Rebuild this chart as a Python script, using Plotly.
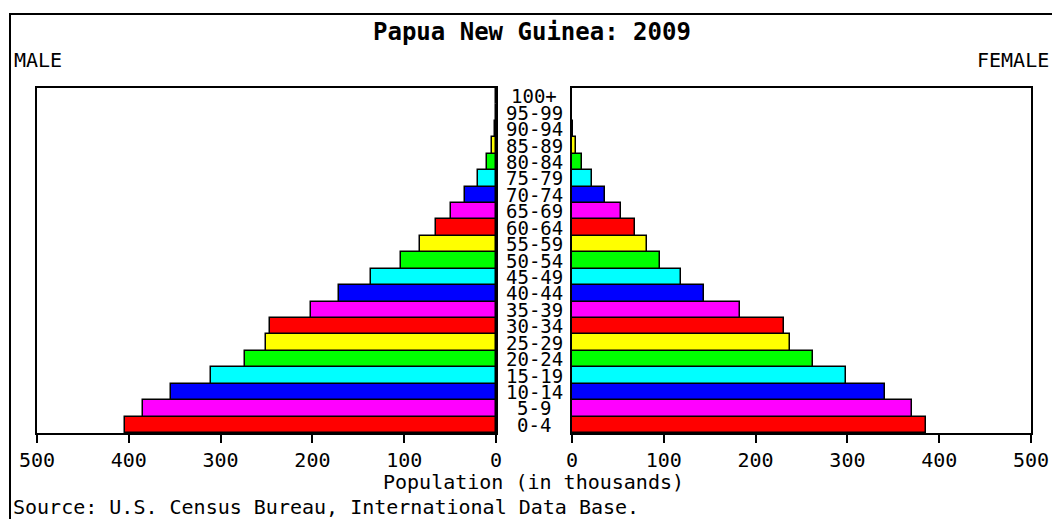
import plotly.graph_objects as go

# ---------------- data ----------------
age_groups = ["0-4", "5-9", "10-14", "15-19", "20-24", "25-29", "30-34",
              "35-39", "40-44", "45-49", "50-54", "55-59", "60-64", "65-69",
              "70-74", "75-79", "80-84", "85-89", "90-94", "95-99", "100+"]
male = [404, 384, 354, 310, 273, 251, 246, 202, 171, 136, 104, 83, 65, 49,
        34, 20, 10, 4, 1, 0.3, 0.05]
female = [386, 370, 341, 299, 263, 238, 231, 183, 144, 119, 96, 82, 69, 53,
          36, 22, 11, 4, 1, 0.3, 0.05]
x_ticks = [0, 100, 200, 300, 400, 500]

title_text = "Papua New Guinea: 2009"
left_label = "MALE"
right_label = "FEMALE"
x_title = "Population (in thousands)"
source_text = "Source: U.S. Census Bureau, International Data Base."

palette = ["#FF0000", "#FF00FF", "#0000FF", "#00FFFF", "#00FF00", "#FFFF00"]
bar_colors = [palette[i % len(palette)] for i in range(len(age_groups))]

# ---------------- layout geometry ----------------
W, H = 1052, 519
L, R, T, B = 37, 21, 88, 86
PW, PH = W - L - R, H - T - B


def px(x):
    return (x - L) / PW


def py(y):
    return (H - B - y) / PH


FONT = "DejaVu Sans Mono"

fig = go.Figure()
fig.add_trace(go.Bar(
    x=male, y=age_groups, orientation="h", xaxis="x", yaxis="y",
    marker=dict(color=bar_colors, line=dict(color="black", width=1.5)),
    showlegend=False, hoverinfo="x+y"))
fig.add_trace(go.Bar(
    x=female, y=age_groups, orientation="h", xaxis="x2", yaxis="y2",
    marker=dict(color=bar_colors, line=dict(color="black", width=1.5)),
    showlegend=False, hoverinfo="x+y"))

axis_common = dict(
    showgrid=False, zeroline=False, showline=True, linecolor="black",
    linewidth=2, mirror=True, ticks="outside", ticklen=8, tickwidth=2,
    tickcolor="black", tickvals=x_ticks, automargin=False,
    tickfont=dict(family=FONT, size=20, color="black"), fixedrange=True)

yaxis_common = dict(
    type="category", categoryorder="array", categoryarray=age_groups,
    showticklabels=False, ticks="", showgrid=False, zeroline=False,
    showline=True, linecolor="black", linewidth=2, mirror=True,
    automargin=False,
    range=[-0.5, len(age_groups) - 0.5], fixedrange=True)

fig.update_layout(
    width=W, height=H, autosize=False,
    margin=dict(l=L, r=R, t=T, b=B, pad=0, autoexpand=False),
    paper_bgcolor="white", plot_bgcolor="white",
    bargap=0,
    xaxis=dict(domain=[0, px(496)], range=[500, 0], anchor="y", **axis_common),
    xaxis2=dict(domain=[px(572), 1], range=[0, 500], anchor="y2", **axis_common),
    yaxis=dict(domain=[0, 1], anchor="x", **yaxis_common),
    yaxis2=dict(domain=[0, 1], anchor="x2", **yaxis_common),
)

annotations = []
for ag in age_groups:
    annotations.append(dict(
        text=ag, xref="paper", yref="y", x=px(534), y=ag,
        xanchor="center", yanchor="middle", showarrow=False,
        font=dict(family=FONT, size=19, color="black")))

annotations += [
    dict(text="<b>" + title_text + "</b>", xref="paper", yref="paper",
         x=px(532), y=py(32), xanchor="center", yanchor="middle",
         showarrow=False, font=dict(family=FONT, size=24, color="black")),
    dict(text=left_label, xref="paper", yref="paper", x=px(12), y=py(60),
         xanchor="left", yanchor="middle", showarrow=False,
         font=dict(family=FONT, size=20, color="black")),
    dict(text=right_label, xref="paper", yref="paper", x=px(1051), y=py(60),
         xanchor="right", yanchor="middle", showarrow=False,
         font=dict(family=FONT, size=20, color="black")),
    dict(text=x_title, xref="paper", yref="paper", x=px(533), y=py(482),
         xanchor="center", yanchor="middle", showarrow=False,
         font=dict(family=FONT, size=20, color="black")),
    dict(text=source_text, xref="paper", yref="paper", x=px(11), y=py(507),
         xanchor="left", yanchor="middle", showarrow=False,
         font=dict(family=FONT, size=20, color="black")),
]
fig.update_layout(annotations=annotations)

fig.add_shape(type="rect", xref="paper", yref="paper",
              x0=px(10), x1=px(1080), y0=py(14), y1=py(560),
              line=dict(color="black", width=2), fillcolor="rgba(0,0,0,0)",
              layer="above")

fig.write_html("out.html",
               config={"displayModeBar": False},
               post_script="document.body.style.margin='0';"
                           "document.body.style.overflow='hidden';")
